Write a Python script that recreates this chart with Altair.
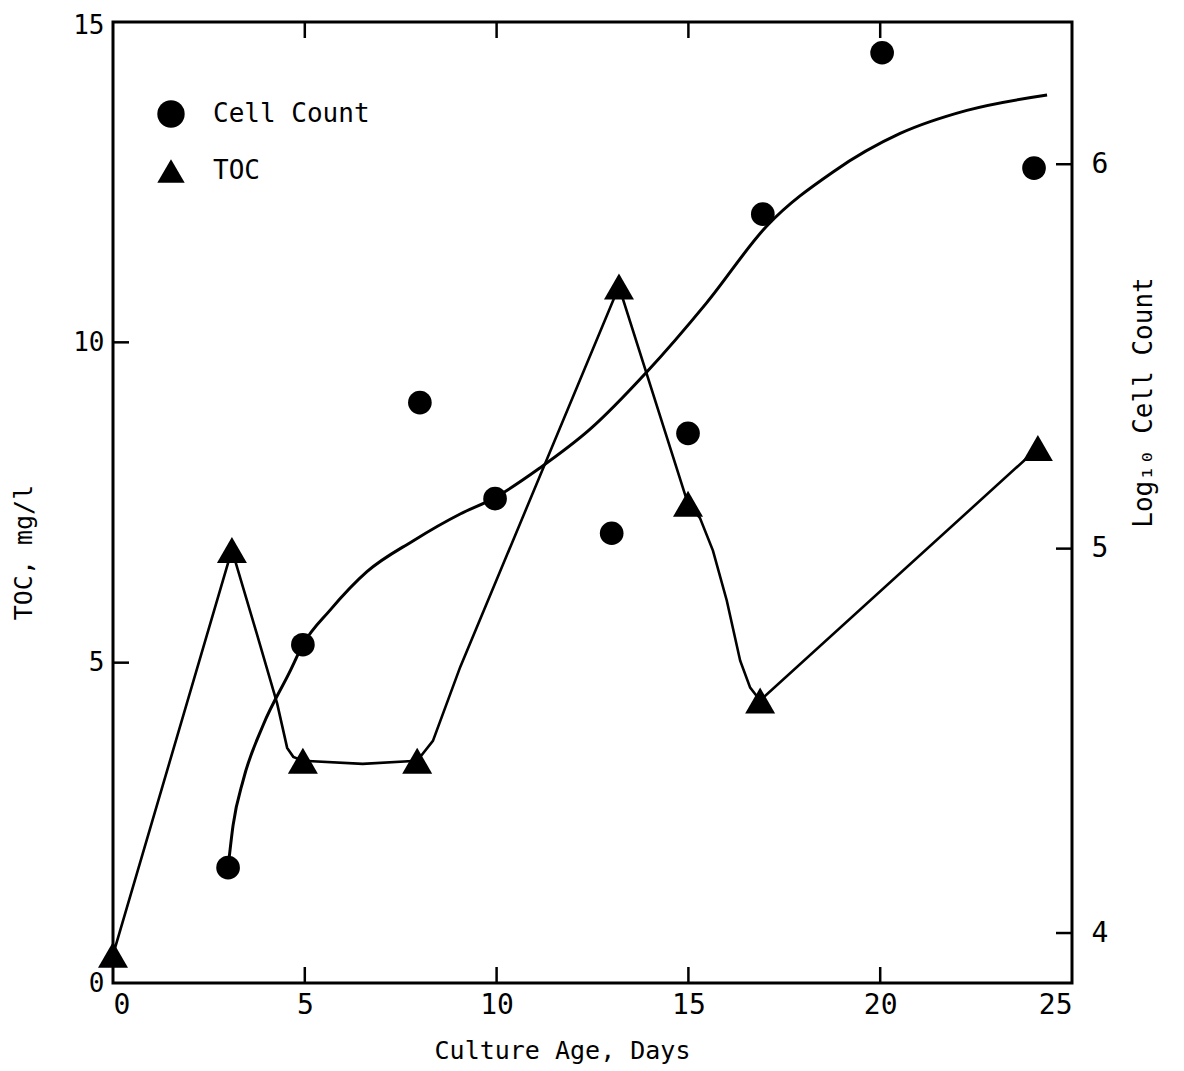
import altair as alt
import pandas as pd

FONT = "DejaVu Sans Mono"

# ---- data ----
# TOC measurements (left axis, mg/l)
toc_day = [0, 3.1, 4.95, 7.93, 13.19, 14.99, 16.87, 24.11]
toc_val = [0.44, 6.76, 3.47, 3.47, 10.87, 7.48, 4.41, 8.35]

# TOC connecting line as drawn
toc_line_day = [0, 3.1, 3.75, 4.28, 4.54, 4.7, 4.95, 6.51, 7.93, 8.34, 9.05,
                13.19, 14.99, 15.30, 15.64, 16.0, 16.35, 16.61, 16.87, 24.11]
toc_line_val = [0.44, 6.76, 5.45, 4.36, 3.67, 3.53, 3.47, 3.42, 3.47, 3.78, 4.93,
                10.87, 7.48, 7.26, 6.75, 5.97, 5.03, 4.61, 4.41, 8.35]

# Cell count measurements (right axis, log10)
cell_day = [3.0, 4.95, 8.0, 9.96, 13.0, 14.99, 16.94, 20.05, 24.01]
cell_val = [4.17, 4.75, 5.38, 5.13, 5.04, 5.30, 5.87, 6.29, 5.99]

# Smoothed cell count curve as drawn
curve_day = [3.0, 3.13, 3.4, 3.91, 4.61, 4.95, 5.66, 6.62, 7.82,
             9.05, 9.91, 11.13, 12.43, 13.92, 15.48, 17.05, 18.77, 20.52,
             22.26, 24.35]
curve_val = [4.17, 4.28, 4.40, 4.54, 4.68, 4.75, 4.84, 4.94, 5.02,
             5.09, 5.13, 5.21, 5.31, 5.46, 5.64, 5.84, 5.98, 6.08,
             6.14, 6.18]

# axes
x_labels = [0, 5, 10, 15, 20, 25]
x_tickmarks = [5, 10, 15, 20]
toc_labels = [0, 5, 10, 15]
toc_tickmarks = [5, 10]
cell_labels = [4, 5, 6]
cell_tickmarks = [4, 5, 6]
series_names = ["Cell Count", "TOC"]

W, H = 959, 961
TICK = 16

toc_df = pd.DataFrame({"day": toc_day, "toc": toc_val, "series": "TOC"})
toc_line_df = pd.DataFrame({"day": toc_line_day, "toc": toc_line_val})
cell_df = pd.DataFrame({"day": cell_day, "cell": cell_val, "series": "Cell Count"})
curve_df = pd.DataFrame({"day": curve_day, "cell": curve_val})
xt_df = pd.DataFrame({"day": x_tickmarks})
lt_df = pd.DataFrame({"toc": toc_tickmarks})
rt_df = pd.DataFrame({"cell": cell_tickmarks})

x_enc = alt.X(
    "day:Q",
    scale=alt.Scale(domain=[0, 25], nice=False, zero=False),
    axis=alt.Axis(
        values=x_labels, title="Culture Age, Days", ticks=False, domain=False,
        grid=False, labelPadding=8, labelFontSize=28,
        titleX=449, titleY=75, titleBaseline="alphabetic", titleAlign="center",
        titleFontSize=25,
    ),
)

yl_enc = alt.Y(
    "toc:Q",
    scale=alt.Scale(domain=[0, 15], nice=False, zero=False),
    axis=alt.Axis(
        orient="left", values=toc_labels, title="TOC, mg/l", ticks=False,
        domain=False, grid=False, labelPadding=9, labelFontSize=26,
        labelOffset={"condition": {"test": "datum.value == 15", "value": 3},
                     "value": 0},
        titleAngle=270, titleX=-90, titleY=530, titleAlign="center",
        titleBaseline="middle", titleFontSize=25,
    ),
)

yr_enc = alt.Y(
    "cell:Q",
    scale=alt.Scale(domain=[3.87, 6.37], nice=False, zero=False),
    axis=alt.Axis(
        orient="right", values=cell_labels, title="Log\u2081\u2080 Cell Count",
        ticks=False, domain=False, grid=False, labelPadding=19,
        labelFontSize=28, titleAngle=270, titleX=71, titleY=380,
        titleAlign="center", titleBaseline="middle", titleFontSize=26,
    ),
)

shape_enc = alt.Shape(
    "series:N",
    scale=alt.Scale(domain=series_names, range=["circle", "triangle-up"]),
    legend=alt.Legend(
        orient="none", legendX=44, legendY=78, title=None,
        symbolFillColor="black", symbolStrokeWidth=0, symbolSize=750,
        symbolOpacity=1, labelFont=FONT, labelFontSize=26, labelColor="black",
        labelOffset=28, rowPadding=29,
    ),
)

toc_line = alt.Chart(toc_line_df).mark_line(
    color="black", strokeWidth=2.6
).encode(x=x_enc, y=yl_enc, order="day:Q")

toc_pts = alt.Chart(toc_df).mark_point(
    filled=True, color="black", opacity=1, size=900
).encode(x=x_enc, y=yl_enc, shape=shape_enc)

left_ticks = alt.Chart(lt_df).mark_rule(color="black", strokeWidth=2.5).encode(
    y=yl_enc, x=alt.value(0), x2=alt.value(TICK)
)

bottom_ticks = alt.Chart(xt_df).mark_rule(color="black", strokeWidth=2.5).encode(
    x=x_enc, y=alt.value(H - TICK), y2=alt.value(H)
)
top_ticks = alt.Chart(xt_df).mark_rule(color="black", strokeWidth=2.5).encode(
    x=x_enc, y=alt.value(0), y2=alt.value(TICK)
)

cell_curve = alt.Chart(curve_df).mark_line(
    color="black", strokeWidth=3, interpolate="monotone"
).encode(x=x_enc, y=yr_enc, order="day:Q")

cell_pts = alt.Chart(cell_df).mark_point(
    filled=True, color="black", opacity=1, size=560
).encode(x=x_enc, y=yr_enc, shape=shape_enc)

right_ticks = alt.Chart(rt_df).mark_rule(color="black", strokeWidth=2.5).encode(
    y=yr_enc, x=alt.value(W - TICK), x2=alt.value(W)
)

left_group = alt.layer(toc_line, left_ticks, bottom_ticks, top_ticks, toc_pts)
right_group = alt.layer(cell_curve, right_ticks, cell_pts)

chart = (
    alt.layer(left_group, right_group)
    .resolve_scale(y="independent")
    .properties(
        width=W, height=H,
        autosize=alt.AutoSizeParams(type="none"),
        padding={"left": 105, "top": 14, "right": 95, "bottom": 84},
        background="white",
    )
    .configure_view(stroke="black", strokeWidth=3)
    .configure_axis(
        labelFont=FONT, titleFont=FONT, labelColor="black", titleColor="black",
        titleFontWeight="normal", labelOverlap=False, labelBound=False,
    )
)

chart.save("out.html", embed_options={"renderer": "svg", "actions": False})
